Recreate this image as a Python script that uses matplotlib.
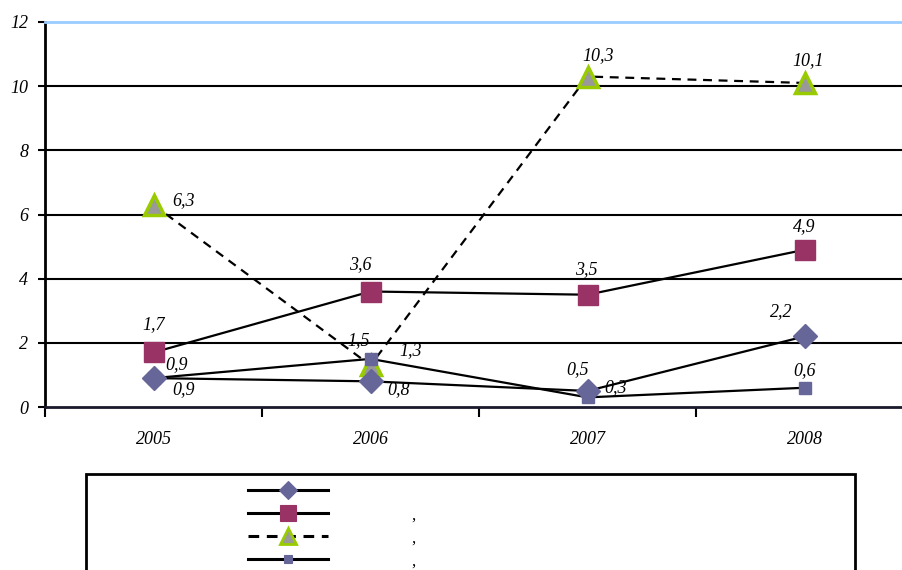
import matplotlib.pyplot as plt
from matplotlib.lines import Line2D
from matplotlib.patches import Rectangle

plt.rcParams['font.family'] = ['Liberation Serif', 'DejaVu Serif']

years = ['2005', '2006', '2007', '2008']
s1 = [0.9, 0.8, 0.5, 2.2]
s2 = [1.7, 3.6, 3.5, 4.9]
s3 = [6.3, 1.3, 10.3, 10.1]
s4 = [0.9, 1.5, 0.3, 0.6]
legend_labels = ['', ',', ',', ',']

# label offsets in pixels (dx, dy) per point
off1 = [(30, -11), (28, -8), (-10, 21), (-23, 25)]
off2 = [(0, 28), (-10, 27), (-1, 25), (0, 23)]
off3 = [(30, 4), (40, 15), (11, 21), (4, 22)]
off4 = [(23, 14), (-12, 18), (28, 10), (0, 17)]

styles = [
    dict(data=s1, offs=off1, ls='-', marker='D', ms=12, mfc='#666699', mec='#666699', mew=1, z=5),
    dict(data=s2, offs=off2, ls='-', marker='s', ms=14, mfc='#993366', mec='#993366', mew=1, z=6),
    dict(data=s3, offs=off3, ls='--', marker='^', ms=15, mfc='#999999', mec='#99CC00', mew=2.5, z=3),
    dict(data=s4, offs=off4, ls='-', marker='s', ms=8, mfc='#666699', mec='#666699', mew=1, z=4),
]

fig = plt.figure(figsize=(9.03, 5.70), dpi=100)
ax = fig.add_axes([45 / 903, 163 / 570, 868 / 903, 385 / 570])

x = list(range(len(years)))
for st in styles:
    ax.plot(x, st['data'], color='black', lw=1.6, ls=st['ls'], dashes=(4, 3) if st['ls'] == '--' else (None, None),
            marker=st['marker'], ms=st['ms'], mfc=st['mfc'], mec=st['mec'], mew=st['mew'],
            zorder=st['z'], clip_on=False)
    for xi, v, (dx, dy) in zip(x, st['data'], st['offs']):
        ax.annotate(f'{v:.1f}'.replace('.', ','), (xi, v), xytext=(dx, dy), textcoords='offset pixels',
                    ha='center', va='center', fontsize=13, style='italic', zorder=10)

ax.set_xlim(-0.5, 3.5)
ax.set_ylim(0, 12)
ax.set_yticks(range(0, 13, 2))
ax.set_yticklabels([str(v) for v in range(0, 13, 2)], fontsize=13, style='italic')
ax.set_xticks(x)
ax.set_xticklabels(years, fontsize=13, style='italic')
ax.set_xticks([-0.5, 0.5, 1.5, 2.5, 3.5], minor=True)
ax.tick_params(axis='x', which='major', length=0, pad=17)
ax.tick_params(axis='x', which='minor', length=7, width=1.5, direction='out')
ax.tick_params(axis='y', length=5, width=1.5, direction='out', pad=7)

for v in range(2, 12, 2):
    ax.axhline(v, color='black', lw=1.5, zorder=1)

ax.spines['top'].set_color('#99CCFF')
ax.spines['top'].set_linewidth(2)
ax.spines['right'].set_visible(False)
ax.spines['left'].set_linewidth(2)
ax.spines['bottom'].set_color('#1a1a2e')
ax.spines['bottom'].set_linewidth(2)

# legend box, partly below the bottom edge
fig.add_artist(Rectangle((86 / 903, 1 - 590 / 570), (855 - 86) / 903, (590 - 474) / 570,
                         transform=fig.transFigure, fill=False, ec='black', lw=2))
for i, (st, lab) in enumerate(zip(styles, legend_labels)):
    yy = 1 - (490 + 23 * i) / 570
    fig.add_artist(Line2D([248 / 903, 328 / 903], [yy, yy], transform=fig.transFigure, color='black',
                          lw=2.2, ls=st['ls'], dashes=(3.5, 2.5) if st['ls'] == '--' else (None, None)))
    fig.add_artist(Line2D([288 / 903], [yy], transform=fig.transFigure, marker=st['marker'],
                          ms=st['ms'] * 0.8, mfc=st['mfc'], mec=st['mec'], mew=st['mew'] * 0.8, ls='none'))
    fig.text(413 / 903, yy - 3 / 570, lab, fontsize=12, va='center', ha='center')

fig.savefig('out.png', dpi=100)
